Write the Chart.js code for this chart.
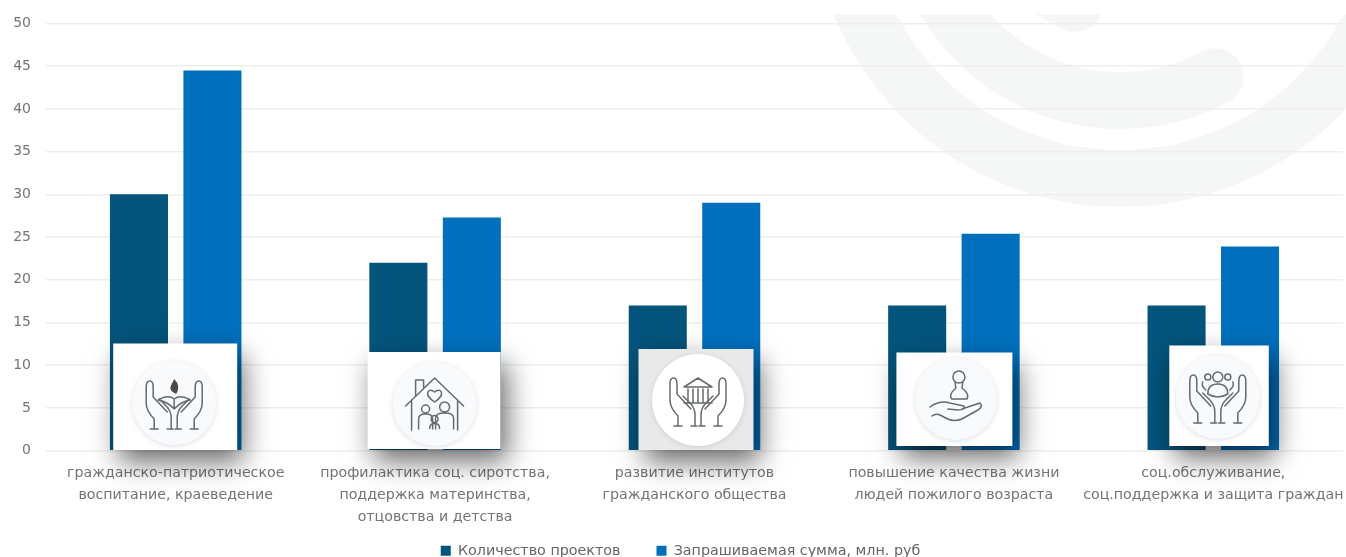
<!DOCTYPE html>
<html lang="ru">
<head>
<meta charset="utf-8">
<title>Проекты по направлениям</title>
<script src="https://cdn.jsdelivr.net/npm/chart.js@4"></script>
<style>
  html, body { margin: 0; padding: 0; background: #fff; }
  canvas { display: block; }
</style>
</head>
<body>
<canvas id="projectsChart" width="1346" height="557"></canvas>
<script>
const categories = [
    ['гражданско-патриотическое', 'воспитание, краеведение'],
    ['профилактика соц. сиротства,', 'поддержка материнства,', 'отцовства и детства'],
    ['развитие институтов', 'гражданского общества'],
    ['повышение качества жизни', 'людей пожилого возраста'],
    ['соц.обслуживание,', 'соц.поддержка и защита граждан']
];
const projectCounts = [30, 22, 17, 17, 17];
const requestedSums = [44.5, 27.3, 29, 25.4, 23.9];
const seriesNames = ['Количество проектов', 'Запрашиваемая сумма, млн. руб'];

const DARK = '#04547c';
const BLUE = '#0070bd';
const LINE = '#666a6c';

// Logo in the background, three thick arcs around one centre
function drawWatermark(ctx) {
    const cx = 1120, cy = -102;
    ctx.save();
    ctx.beginPath();
    ctx.rect(0, 14, 1346, 543);
    ctx.clip();
    ctx.strokeStyle = '#f5f6f6';
    ctx.lineWidth = 57;
    ctx.beginPath();
    ctx.arc(cx, cy, 280.5, 0, Math.PI);
    ctx.stroke();
    ctx.lineCap = 'round';
    ctx.beginPath();
    ctx.arc(cx, cy, 202.5, 62 * Math.PI / 180, Math.PI);
    ctx.stroke();
    ctx.beginPath();
    ctx.arc(cx, cy, 114.5, 113 * Math.PI / 180, Math.PI);
    ctx.stroke();
    ctx.restore();
}

// Two open hands, the palms meet at the bottom
function drawHands(ctx) {
    [1, -1].forEach(side => {
        ctx.save();
        ctx.scale(side, 1);
        ctx.beginPath();
        ctx.moveTo(-3, 26);
        ctx.lineTo(-3, 15);
        ctx.quadraticCurveTo(-3, 8, -8, 3);
        ctx.lineTo(-15, -4);
        ctx.moveTo(-21, -6);
        ctx.lineTo(-7, 9);
        ctx.moveTo(-20, 26);
        ctx.lineTo(-20, 16);
        ctx.quadraticCurveTo(-28, 8, -28, 0);
        ctx.lineTo(-28, -16);
        ctx.quadraticCurveTo(-28, -22, -24.5, -22);
        ctx.quadraticCurveTo(-21, -22, -21, -16);
        ctx.lineTo(-21, -6);
        ctx.moveTo(-24, 26);
        ctx.lineTo(-16, 26);
        ctx.moveTo(-7, 26);
        ctx.lineTo(-1, 26);
        ctx.stroke();
        ctx.restore();
    });
}

function drawPerson(ctx, x, y, r, w, h) {
    ctx.beginPath();
    ctx.arc(x, y, r, 0, Math.PI * 2);
    ctx.moveTo(x - w, y + r + h);
    ctx.lineTo(x - w, y + r + 6);
    ctx.quadraticCurveTo(x - w, y + r + 1, x, y + r + 1);
    ctx.quadraticCurveTo(x + w, y + r + 1, x + w, y + r + 6);
    ctx.lineTo(x + w, y + r + h);
    ctx.stroke();
}

function iconBookFlame(ctx) {
    drawHands(ctx);
    ctx.fillStyle = '#4a4a4a';
    ctx.beginPath();
    ctx.moveTo(0, -24);
    ctx.quadraticCurveTo(7, -17, 2, -9);
    ctx.quadraticCurveTo(-6, -12, -3, -18);
    ctx.closePath();
    ctx.fill();
    ctx.beginPath();
    ctx.moveTo(-16, -3);
    ctx.quadraticCurveTo(-6, -9, 0, -4);
    ctx.quadraticCurveTo(6, -9, 16, -3);
    ctx.quadraticCurveTo(6, -1, 0, 6);
    ctx.quadraticCurveTo(-6, -1, -16, -3);
    ctx.moveTo(0, -4);
    ctx.lineTo(0, 6);
    ctx.stroke();
}

function iconFamilyHouse(ctx) {
    ctx.beginPath();
    ctx.moveTo(-29, 2);
    ctx.lineTo(0, -26);
    ctx.lineTo(29, 2);
    ctx.moveTo(-23, -3);
    ctx.lineTo(-23, 26);
    ctx.moveTo(23, -3);
    ctx.lineTo(23, 26);
    ctx.moveTo(-19, -8);
    ctx.lineTo(-19, -24);
    ctx.lineTo(-11, -24);
    ctx.lineTo(-11, -16);
    ctx.stroke();
    // heart under the roof
    ctx.beginPath();
    ctx.moveTo(0, -2);
    ctx.bezierCurveTo(-12, -10, -6, -17, 0, -12);
    ctx.bezierCurveTo(6, -17, 12, -10, 0, -2);
    ctx.stroke();
    drawPerson(ctx, -9, 5, 4, 7, 16);
    drawPerson(ctx, 10, 3, 5, 9, 17);
    drawPerson(ctx, 0, 15, 3.5, 5, 6);
}

function iconTemple(ctx) {
    drawHands(ctx);
    ctx.beginPath();
    ctx.moveTo(-14, -13);
    ctx.lineTo(0, -22);
    ctx.lineTo(14, -13);
    ctx.closePath();
    [-10, -5, 0, 5, 10].forEach(x => {
        ctx.moveTo(x, -11);
        ctx.lineTo(x, 2);
    });
    ctx.moveTo(-14, 3);
    ctx.lineTo(14, 3);
    ctx.stroke();
}

function iconCareHand(ctx) {
    ctx.beginPath();
    ctx.arc(3, -22, 6, 0, Math.PI * 2);
    ctx.moveTo(-1, -17);
    ctx.lineTo(0, -11);
    ctx.quadraticCurveTo(-8, -4, -4, 0);
    ctx.lineTo(11, 0);
    ctx.quadraticCurveTo(14, -5, 6, -11);
    ctx.lineTo(7, -17);
    ctx.stroke();
    ctx.beginPath();
    ctx.moveTo(-26, 8);
    ctx.quadraticCurveTo(-16, 1, -6, 4);
    ctx.lineTo(8, 7);
    ctx.quadraticCurveTo(10, 11, 2, 11);
    ctx.lineTo(-8, 10);
    ctx.moveTo(6, 10);
    ctx.lineTo(24, 4);
    ctx.quadraticCurveTo(28, 7, 22, 11);
    ctx.lineTo(6, 20);
    ctx.quadraticCurveTo(-2, 23, -8, 20);
    ctx.lineTo(-16, 16);
    ctx.quadraticCurveTo(-20, 14, -24, 17);
    ctx.stroke();
}

function iconPeopleHands(ctx) {
    drawHands(ctx);
    ctx.beginPath();
    ctx.arc(0, -20, 5, 0, Math.PI * 2);
    ctx.moveTo(-10, -3);
    ctx.quadraticCurveTo(-10, -13, 0, -13);
    ctx.quadraticCurveTo(10, -13, 10, -3);
    ctx.quadraticCurveTo(0, 3, -10, -3);
    ctx.moveTo(-7, -20);
    ctx.arc(-10, -20, 3, 0, Math.PI * 2);
    ctx.moveTo(13, -20);
    ctx.arc(10, -20, 3, 0, Math.PI * 2);
    ctx.moveTo(-12, -7);
    ctx.quadraticCurveTo(-17, -11, -15, -15);
    ctx.moveTo(12, -7);
    ctx.quadraticCurveTo(17, -11, 15, -15);
    ctx.stroke();
}

// White cards over the bars; the offsets are from each category's centre
const iconCards = [
    { left: -62.5, right: 61.5, top: 343.5, bottom: 450, cx: -1.5, cy: 403, r: 42, bg: '#ffffff', disc: '#f9fafc', icon: iconBookFlame },
    { left: -67.5, right: 65.5, top: 352, bottom: 449, cx: -0.5, cy: 404, r: 42, bg: '#ffffff', disc: '#f9fafc', icon: iconFamilyHouse },
    { left: -56, right: 59, top: 349, bottom: 450, cx: 3.5, cy: 400, r: 46, bg: '#e9e9e9', disc: '#ffffff', icon: iconTemple },
    { left: -57.5, right: 58.5, top: 352.5, bottom: 446, cx: 2, cy: 399, r: 41, bg: '#ffffff', disc: '#f9fafc', icon: iconCareHand },
    { left: -44, right: 55.5, top: 345.5, bottom: 446, cx: 4.5, cy: 397, r: 42, bg: '#ffffff', disc: '#f9fafc', icon: iconPeopleHands }
];

const cardsPlugin = {
    id: 'cards',
    // move the legend row into place, its padding also sets the gap between the two entries
    afterLayout(chart) {
        chart.legend.top -= 20;
        chart.legend.bottom -= 20;
        chart.legend.left += 9;
        chart.legend.right += 9;
    },
    beforeDraw(chart) {
        drawWatermark(chart.ctx);
    },
    afterDatasetsDraw(chart) {
        const ctx = chart.ctx;
        const xScale = chart.scales.x;
        iconCards.forEach((card, i) => {
            const mid = xScale.getPixelForValue(i);
            const x = mid + card.left;
            const w = card.right - card.left;
            const h = card.bottom - card.top;

            ctx.save();
            ctx.shadowColor = 'rgba(0, 0, 0, 0.58)';
            ctx.shadowBlur = 26;
            ctx.shadowOffsetX = 6;
            ctx.shadowOffsetY = 12;
            ctx.fillStyle = card.bg;
            ctx.fillRect(x, card.top, w, h);
            ctx.restore();

            const px = mid + card.cx;
            ctx.save();
            ctx.shadowColor = 'rgba(90, 110, 130, 0.22)';
            ctx.shadowBlur = 5;
            ctx.shadowOffsetY = 1;
            ctx.fillStyle = card.disc;
            ctx.beginPath();
            ctx.arc(px, card.cy, card.r, 0, Math.PI * 2);
            ctx.fill();
            ctx.restore();

            ctx.save();
            ctx.translate(px, card.cy);
            ctx.strokeStyle = LINE;
            ctx.lineWidth = 1.5;
            ctx.lineJoin = 'round';
            ctx.lineCap = 'round';
            card.icon(ctx);
            ctx.restore();
        });
    }
};

const ctx = document.getElementById('projectsChart').getContext('2d');
const projectsChart = new Chart(ctx, {
    type: 'bar',
    data: {
        labels: categories,
        datasets: [
            { label: seriesNames[0], data: projectCounts, backgroundColor: DARK },
            { label: seriesNames[1], data: requestedSums, backgroundColor: BLUE }
        ]
    },
    options: {
        responsive: false,
        animation: false,
        layout: {
            padding: { top: 23, right: 3, bottom: -31, left: 0 }
        },
        datasets: {
            bar: { categoryPercentage: 0.5665, barPercentage: 0.79 }
        },
        plugins: {
            tooltip: { enabled: false },
            legend: {
                position: 'bottom',
                labels: {
                    boxWidth: 10,
                    boxHeight: 10,
                    padding: 36,
                    color: '#666666',
                    font: { family: '"DejaVu Sans"', size: 14.3 }
                }
            }
        },
        scales: {
            x: {
                grid: { display: false },
                border: { display: false },
                afterFit(scale) {
                    scale.height = 77;
                    scale.paddingLeft = 0;
                    scale.paddingRight = 0;
                },
                ticks: {
                    autoSkip: false,
                    maxRotation: 0,
                    padding: 4,
                    color: '#747474',
                    font: { family: '"DejaVu Sans"', size: 14.2, lineHeight: 1.55 }
                }
            },
            y: {
                min: 0,
                max: 50,
                afterFit(scale) { scale.width = 46; },
                grid: { color: '#eeeeee', lineWidth: 1.5, drawTicks: false },
                border: { display: false },
                ticks: {
                    stepSize: 5,
                    padding: 15,
                    color: '#747474',
                    font: { family: '"DejaVu Sans"', size: 14 }
                }
            }
        }
    },
    plugins: [cardsPlugin]
});
</script>
</body>
</html>
